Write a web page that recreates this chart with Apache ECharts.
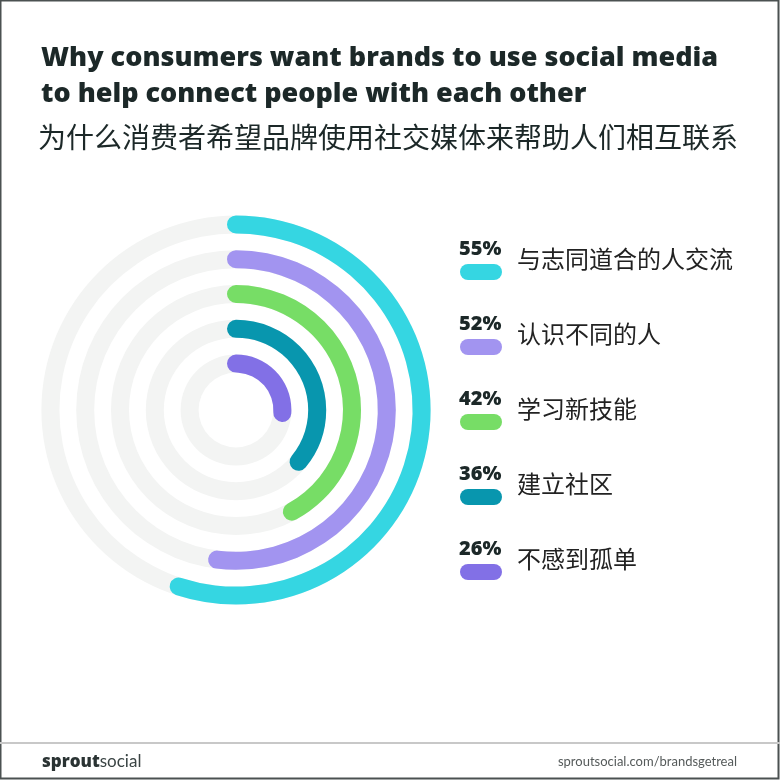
<!DOCTYPE html>
<html>
<head>
<meta charset="utf-8">
<script src="https://cdn.jsdelivr.net/npm/echarts@6/dist/echarts.min.js"></script>
<style>
html,body{margin:0;padding:0;background:#fff;}
#main{width:780px;height:780px;}
</style>
</head>
<body>
<div id="main"></div>
<script>
// Data (outermost ring first, as in the legend)
const categories = ['与志同道合的人交流', '认识不同的人', '学习新技能', '建立社区', '不感到孤单'];
const values = [55, 52, 42, 36, 26];
const valueLabels = ['55%', '52%', '42%', '36%', '26%'];
const palette = ['#35d6e2', '#a294f0', '#77dd66', '#0896ae', '#8270e6'];

const titleLines = ['Why consumers want brands to use social media', 'to help connect people with each other'];
const subtitle = '为什么消费者希望品牌使用社交媒体来帮助人们相互联系';

const chart = echarts.init(document.getElementById('main'), null, {renderer: 'canvas'});

// radius axis goes inner -> outer, so reverse
const radCats = categories.slice().reverse();
const radVals = values.slice().reverse();
const radColors = palette.slice().reverse();

const graphics = [];
// border
graphics.push({type: 'rect', shape: {x: 0.5, y: 0.5, width: 778, height: 778}, style: {fill: 'none', stroke: '#4b5151', lineWidth: 2}, silent: true});
// title
graphics.push({type: 'text', x: 41, y: 45, style: {text: titleLines[0], font: '800 27px "Open Sans"', fill: '#1c2828'}});
graphics.push({type: 'text', x: 41, y: 81, style: {text: titleLines[1], font: '800 27px "Open Sans"', fill: '#1c2828'}});
graphics.push({type: 'text', left: 38, top: 123, style: {text: subtitle, font: '28px "Noto Sans CJK SC"', fill: '#1c2828'}});
// legend
categories.forEach(function (c, i) {
  const y0 = 264 + i * 75;
  graphics.push({type: 'text', x: 459, y: y0 - 25, style: {text: valueLabels[i], font: '800 20px "Open Sans"', fill: '#1c2828'}});
  graphics.push({type: 'rect', shape: {x: 460, y: y0, width: 42, height: 16, r: 8}, style: {fill: palette[i]}});
  graphics.push({type: 'text', x: 517, y: y0 - 5, style: {text: c, font: '24px "Noto Sans CJK SC"', fill: '#222', verticalAlign: 'middle'}});
});
// footer
graphics.push({type: 'line', shape: {x1: 0, y1: 743, x2: 780, y2: 743}, style: {stroke: '#c8c8c8', lineWidth: 2}});
graphics.push({type: 'text', x: 42, y: 762, style: {
  text: '{a|sprout}{b|social}', verticalAlign: 'middle',
  rich: {a: {font: '800 17px "Open Sans"', fill: '#2a3333'}, b: {font: '17px Lato', fill: '#3a4444'}}
}});
graphics.push({type: 'text', x: 737, y: 762, style: {text: 'sproutsocial.com/brandsgetreal', font: '13px Lato', fill: '#555a5a', align: 'right', verticalAlign: 'middle'}});

chart.setOption({
  animation: false,
  backgroundColor: '#fff',
  polar: {center: [236, 410], radius: [29, 203]},
  angleAxis: {type: 'value', min: 0, max: 100, startAngle: 90, clockwise: true, show: false},
  radiusAxis: {type: 'category', data: radCats, show: false},
  series: [{
    type: 'bar',
    coordinateSystem: 'polar',
    data: radVals.map(function (v, i) { return {value: v, itemStyle: {color: radColors[i]}}; }),
    barWidth: 18,
    roundCap: true,
    showBackground: true,
    backgroundStyle: {color: '#f3f4f3'}
  }],
  graphic: graphics
});
</script>
</body>
</html>
